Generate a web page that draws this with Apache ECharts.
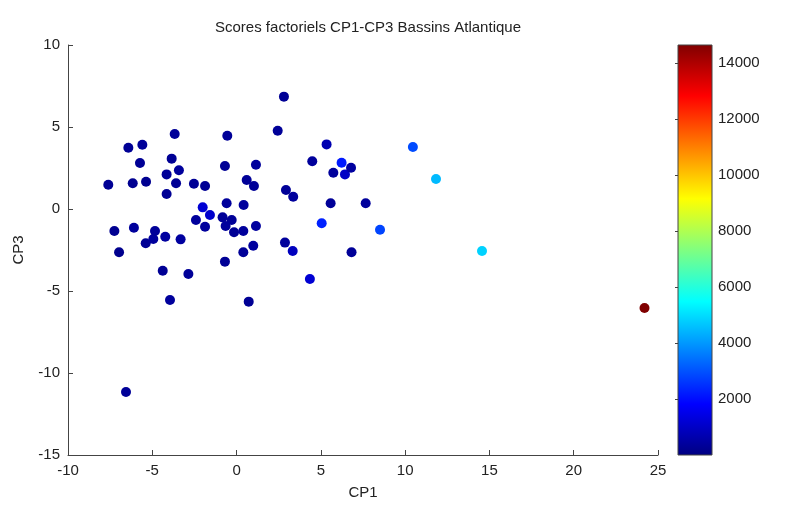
<!DOCTYPE html>
<html>
<head>
<meta charset="utf-8">
<script src="https://cdn.jsdelivr.net/npm/echarts@6/dist/echarts.min.js"></script>
<style>
  html, body { margin: 0; padding: 0; background: #ffffff; }
  #chart { width: 791px; height: 508px; }
</style>
</head>
<body>
<div id="chart"></div>
<script>
// Factor scores on component 1 (horizontal) and component 3 (vertical)
const cp1 = [
  -7.61, -7.25, -6.97, -6.56, -6.42, -6.16, -6.09, -5.73, -5.59, -5.37,
  -5.39, -4.94, -4.84, -4.38, -4.23, -4.15, -4.15, -3.95, -3.85, -3.67,
  -3.59, -3.42, -3.32, -2.86, -2.53, -2.41, -2.01, -1.87, -1.87, -1.58,
  -0.83, -0.69, -0.65, -0.69, -0.55, -0.59, -0.29, -0.15, 0.40, 0.40,
  0.42, 0.60, 0.72, 0.99, 1.03, 1.15, 1.15, 2.44, 2.81, 2.87,
  2.93, 3.33, 3.36, 4.35, 4.49, 5.05, 5.34, 5.58, 5.74, 6.23,
  6.43, 6.79, 6.82, 7.66, 8.51, 10.46, 11.83, 14.56, 24.20
];
const cp3 = [
  1.48, -1.34, -2.64, -11.16, 3.74, 1.57, -1.14, 2.80, 3.92, 1.66,
  -2.09, -1.83, -1.34, -3.76, -1.69, 2.11, 0.91, -5.55, 3.07, 4.57,
  1.57, 2.36, -1.85, -3.96, 1.54, -0.67, 0.10, 1.40, -1.08, -0.37,
  -0.51, 2.62, -1.04, -3.21, 4.47, 0.35, -0.67, -1.42, -1.34, -2.64,
  0.24, 1.77, -5.65, -2.24, 1.40, 2.70, -1.04, 4.77, 6.85, -2.05,
  1.16, -2.56, 0.75, -4.27, 2.91, -0.87, 3.94, 0.35, 2.21, 2.82,
  2.11, 2.52, -2.64, 0.35, -1.26, 3.78, 1.83, -2.56, -6.04
];
// Colour variable of each basin
const colorValues = [
  300, 250, 200, 350, 300, 250, 400, 300, 350, 250,
  300, 400, 350, 300, 450, 350, 300, 400, 300, 350,
  300, 400, 450, 350, 300, 400, 1200, 300, 400, 1100,
  350, 300, 400, 300, 350, 400, 350, 300, 400, 350,
  400, 350, 300, 450, 350, 400, 450, 350, 300, 400,
  350, 900, 400, 1200, 400, 2300, 700, 350, 400, 2200,
  1000, 450, 350, 400, 2800, 2900, 4500, 4850, 14650
];

const xTicks = { min: -10, max: 25, interval: 5 };
const yTicks = { min: -15, max: 10, interval: 5 };
const cbRange = [0, 14650];
const cbTickValues = [2000, 4000, 6000, 8000, 10000, 12000, 14000];

// jet colormap sampled every 1/8
const jet = ['#000080', '#0000ff', '#0080ff', '#00ffff', '#80ff80', '#ffff00', '#ff8000', '#ff0000', '#800000'];

const points = cp1.map((x, i) => [x, cp3[i], colorValues[i]]);

const textColor = '#222';
const lineColor = '#444';
const fontFamily = 'Liberation Sans, Arial, sans-serif';

const chart = echarts.init(document.getElementById('chart'), null, { renderer: 'canvas' });

const axisCommon = {
  axisLine: { show: true, onZero: false, lineStyle: { color: lineColor, width: 1 } },
  axisTick: { show: true, inside: true, length: 5, lineStyle: { color: lineColor } },
  splitLine: { show: false },
  axisLabel: { color: textColor, fontSize: 15, fontFamily: fontFamily },
  nameTextStyle: { color: textColor, fontSize: 15, fontFamily: fontFamily }
};

chart.setOption({
  backgroundColor: '#ffffff',
  animation: false,
  textStyle: { fontFamily: fontFamily },
  title: {
    text: 'Scores factoriels CP1-CP3 Bassins Atlantique',
    left: 363,
    textAlign: 'center',
    top: 15,
    textStyle: { color: textColor, fontSize: 15, fontWeight: 'normal', fontFamily: fontFamily }
  },
  grid: [
    { left: 68, right: 133, top: 45, bottom: 53, containLabel: false },
    { left: 678, width: 34, top: 45, bottom: 53, containLabel: false }
  ],
  xAxis: [
    Object.assign({}, axisCommon, {
      gridIndex: 0, type: 'value', min: xTicks.min, max: xTicks.max, interval: xTicks.interval,
      name: 'CP1', nameLocation: 'middle', nameGap: 30,
      axisLabel: Object.assign({}, axisCommon.axisLabel, { margin: 8 })
    }),
    { gridIndex: 1, type: 'value', min: 0, max: 1, show: false }
  ],
  yAxis: [
    Object.assign({}, axisCommon, {
      gridIndex: 0, type: 'value', min: yTicks.min, max: yTicks.max, interval: yTicks.interval,
      name: 'CP3', nameLocation: 'middle', nameGap: 42, nameRotate: 90,
      axisLabel: Object.assign({}, axisCommon.axisLabel, { margin: 8 })
    }),
    {
      gridIndex: 1, type: 'value', min: cbRange[0], max: cbRange[1], position: 'right',
      axisLine: { show: false },
      splitLine: { show: false },
      axisTick: { show: true, inside: true, length: 3, customValues: cbTickValues, lineStyle: { color: lineColor } },
      axisLabel: {
        show: true, customValues: cbTickValues, margin: 6, color: textColor, fontSize: 15, fontFamily: fontFamily,
        formatter: function (v) { return String(v); }
      }
    },
    {
      gridIndex: 1, type: 'value', min: cbRange[0], max: cbRange[1], position: 'left',
      axisLine: { show: false },
      splitLine: { show: false },
      axisTick: { show: true, inside: true, length: 3, customValues: cbTickValues, lineStyle: { color: lineColor } },
      axisLabel: { show: false }
    }
  ],
  visualMap: {
    show: false,
    type: 'continuous',
    seriesIndex: 0,
    dimension: 2,
    min: cbRange[0],
    max: cbRange[1],
    inRange: { color: jet }
  },
  series: [
    {
      type: 'scatter',
      xAxisIndex: 0,
      yAxisIndex: 0,
      symbol: 'circle',
      symbolSize: 10,
      itemStyle: { opacity: 1 },
      data: points,
      z: 3
    },
    {
      // colour bar drawn on its own value axis
      type: 'custom',
      xAxisIndex: 1,
      yAxisIndex: 1,
      silent: true,
      data: [[0, cbRange[0], cbRange[1]]],
      renderItem: function (params, api) {
        const topLeft = api.coord([0, api.value(2)]);
        const bottomRight = api.coord([1, api.value(1)]);
        const stops = jet.map((c, i) => ({ offset: i / (jet.length - 1), color: c }));
        return {
          type: 'rect',
          shape: {
            x: topLeft[0], y: topLeft[1],
            width: bottomRight[0] - topLeft[0],
            height: bottomRight[1] - topLeft[1]
          },
          style: {
            fill: new echarts.graphic.LinearGradient(0, 1, 0, 0, stops),
            stroke: lineColor,
            lineWidth: 1
          }
        };
      },
      z: 1
    }
  ]
});
</script>
</body>
</html>
